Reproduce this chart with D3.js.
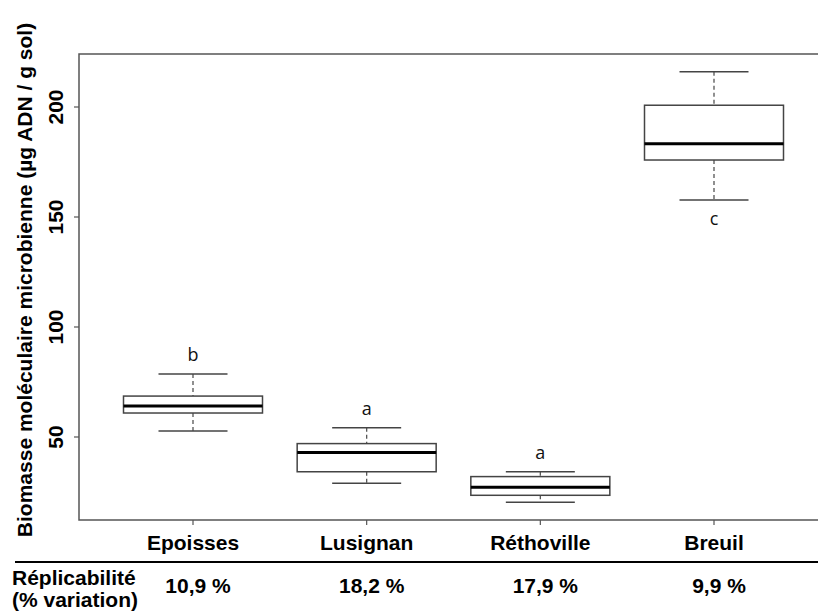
<!DOCTYPE html>
<html>
<head>
<meta charset="utf-8">
<script src="https://cdn.jsdelivr.net/npm/d3@7"></script>
<style>
  body { margin: 0; background: #fff; }
  text { font-family: "Liberation Sans", Arial, sans-serif; }
</style>
</head>
<body>
<div id="chart"></div>
<script>
// data
var sites = ["Epoisses", "Lusignan", "Réthoville", "Breuil"];
var whiskerLow = [52.7, 29.0, 20.3, 157.7];
var q1 = [60.9, 34.2, 23.5, 175.9];
var median = [64.1, 43.0, 27.1, 183.3];
var q3 = [68.6, 47.0, 32.0, 200.8];
var whiskerHigh = [78.6, 54.2, 34.2, 216.0];
var groupLetters = ["b", "a", "a", "c"];
var replicability = ["10,9 %", "18,2 %", "17,9 %", "9,9 %"];
var yTicks = [50, 100, 150, 200];

var width = 818, height = 614;

var svg = d3.select("#chart")
    .append("svg")
    .attr("width", width)
    .attr("height", height);

var plotLeft = 79, plotTop = 54, plotBottom = 520;

var y = d3.scaleLinear()
    .domain([12.27, 224.09])
    .range([plotBottom, plotTop]);

var x = d3.scalePoint()
    .domain(sites)
    .range([193, 714]);

var boxW = 139, capW = 69;
var frameColor = "#555";

// frame: left, top and bottom lines (right side runs off the picture)
svg.append("path")
    .attr("d", "M" + width + "," + plotTop + "H" + plotLeft + "V" + plotBottom + "H" + width)
    .attr("fill", "none")
    .attr("stroke", frameColor)
    .attr("stroke-width", 1.5);

// y axis ticks + rotated labels
var yAxis = svg.append("g");
yAxis.selectAll("line")
    .data(yTicks)
    .enter()
    .append("line")
    .attr("x1", plotLeft - 5)
    .attr("x2", plotLeft)
    .attr("y1", function(d) { return y(d); })
    .attr("y2", function(d) { return y(d); })
    .attr("stroke", frameColor)
    .attr("stroke-width", 1.2);

yAxis.selectAll("text")
    .data(yTicks)
    .enter()
    .append("text")
    .attr("transform", function(d) { return "translate(63," + y(d) + ") rotate(-90)"; })
    .attr("text-anchor", "middle")
    .attr("font-size", 21)
    .attr("font-weight", "bold")
    .text(function(d) { return d; });

// y axis title
svg.append("text")
    .attr("transform", "translate(32,280) rotate(-90)")
    .attr("text-anchor", "middle")
    .attr("font-size", 21)
    .attr("font-weight", "bold")
    .text("Biomasse moléculaire microbienne (µg ADN / g sol)");

// x ticks + category labels
svg.selectAll(".xtick")
    .data(sites)
    .enter()
    .append("line")
    .attr("class", "xtick")
    .attr("x1", function(d) { return x(d); })
    .attr("x2", function(d) { return x(d); })
    .attr("y1", plotBottom)
    .attr("y2", plotBottom + 5)
    .attr("stroke", frameColor)
    .attr("stroke-width", 1.2);

svg.selectAll(".xlab")
    .data(sites)
    .enter()
    .append("text")
    .attr("class", "xlab")
    .attr("x", function(d) { return x(d); })
    .attr("y", 550)
    .attr("text-anchor", "middle")
    .attr("font-size", 21)
    .attr("font-weight", "bold")
    .text(function(d) { return d; });

// boxplots
var boxes = svg.selectAll(".box")
    .data(sites)
    .enter()
    .append("g")
    .attr("class", "box");

// dashed whiskers
boxes.append("line")
    .attr("x1", function(d) { return x(d); })
    .attr("x2", function(d) { return x(d); })
    .attr("y1", function(d, i) { return y(whiskerHigh[i]); })
    .attr("y2", function(d, i) { return y(q3[i]); })
    .attr("stroke", "#555")
    .attr("stroke-width", 1.3)
    .attr("stroke-dasharray", "4,3");

boxes.append("line")
    .attr("x1", function(d) { return x(d); })
    .attr("x2", function(d) { return x(d); })
    .attr("y1", function(d, i) { return y(q1[i]); })
    .attr("y2", function(d, i) { return y(whiskerLow[i]); })
    .attr("stroke", "#555")
    .attr("stroke-width", 1.3)
    .attr("stroke-dasharray", "4,3");

// caps
[whiskerHigh, whiskerLow].forEach(function(arr) {
    boxes.append("line")
        .attr("x1", function(d) { return x(d) - capW / 2; })
        .attr("x2", function(d) { return x(d) + capW / 2; })
        .attr("y1", function(d, i) { return y(arr[i]); })
        .attr("y2", function(d, i) { return y(arr[i]); })
        .attr("stroke", "#444")
        .attr("stroke-width", 1.5);
});

boxes.append("rect")
    .attr("x", function(d) { return x(d) - boxW / 2; })
    .attr("width", boxW)
    .attr("y", function(d, i) { return y(q3[i]); })
    .attr("height", function(d, i) { return y(q1[i]) - y(q3[i]); })
    .attr("fill", "#fff")
    .attr("stroke", "#444")
    .attr("stroke-width", 1.5);

boxes.append("line")
    .attr("x1", function(d) { return x(d) - boxW / 2; })
    .attr("x2", function(d) { return x(d) + boxW / 2; })
    .attr("y1", function(d, i) { return y(median[i]); })
    .attr("y2", function(d, i) { return y(median[i]); })
    .attr("stroke", "#000")
    .attr("stroke-width", 3);

// significance letters: above top whisker, except Breuil (below)
boxes.append("text")
    .attr("x", function(d) { return x(d); })
    .attr("y", function(d, i) {
        if (d === "Breuil") return y(whiskerLow[i]) + 25;
        return y(whiskerHigh[i]) - 13;
    })
    .attr("text-anchor", "middle")
    .attr("font-size", 18)
    .attr("fill", "#111")
    .style("font-family", "'Open Sans', sans-serif")
    .text(function(d, i) { return groupLetters[i]; });

// separator line + replicability row
svg.append("line")
    .attr("x1", 15)
    .attr("x2", width)
    .attr("y1", 562)
    .attr("y2", 562)
    .attr("stroke", "#000")
    .attr("stroke-width", 2.2);

svg.append("text")
    .attr("x", 12)
    .attr("y", 585)
    .attr("font-size", 21)
    .attr("font-weight", "bold")
    .text("Réplicabilité");

svg.append("text")
    .attr("x", 12)
    .attr("y", 607)
    .attr("font-size", 21)
    .attr("font-weight", "bold")
    .text("(% variation)");

svg.selectAll(".repl")
    .data(sites)
    .enter()
    .append("text")
    .attr("class", "repl")
    .attr("x", function(d) { return x(d) + 5; })
    .attr("y", 593)
    .attr("text-anchor", "middle")
    .attr("font-size", 21)
    .attr("font-weight", "bold")
    .text(function(d, i) { return replicability[i]; });
</script>
</body>
</html>
